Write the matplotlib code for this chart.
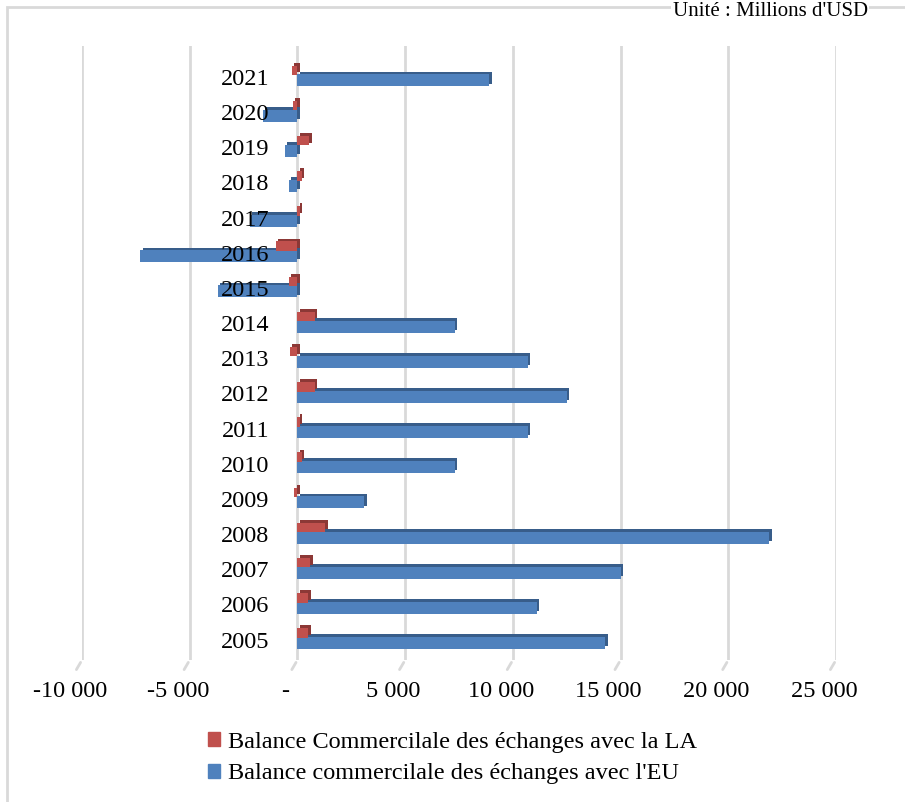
import matplotlib.pyplot as plt
import matplotlib.transforms as mtransforms
from matplotlib.patches import Rectangle

years = [str(y) for y in range(2005, 2022)]

# Millions d'USD
eu_balance = [14300, 11100, 15000, 21900, 3100, 7300, 10700, 12500, 10700,
              7300, -3700, -7300, -2200, -400, -600, -1600, 8900]
la_balance = [500, 500, 600, 1300, -150, 200, 100, 800, -350,
              800, -400, -1000, 100, 200, 550, -200, -250]

xticks = [-10000, -5000, 0, 5000, 10000, 15000, 20000, 25000]
xtick_labels = ['-10 000', '-5 000', '-', '5 000', '10 000', '15 000', '20 000', '25 000']

blue, blue_dark = '#4F81BD', '#385D8A'
red, red_dark = '#C0504D', '#8C3836'

plt.rcParams['font.family'] = ['Liberation Serif', 'DejaVu Serif']
plt.rcParams['font.size'] = 17.5

fig = plt.figure(figsize=(9.05, 8.02), dpi=100)
ax = fig.add_axes([82 / 905, 1 - 660 / 802, (836 - 82) / 905, (660 - 46) / 802])

ypos = list(range(len(years)))


def bars_3d(vals, offset, height, face, dark):
    y = [p + offset for p in ypos]
    # darker block behind gives the top and side faces
    ax.barh([v + 0.08 for v in y], vals, height=height, left=[110] * len(vals),
            color=dark, zorder=2)
    ax.barh(y, vals, height=height, color=face, zorder=3)


bars_3d(eu_balance, -0.03, 0.34, blue, blue_dark)
bars_3d(la_balance, 0.26, 0.27, red, red_dark)

ax.set_xlim(-10000, 25000)
ax.set_ylim(-0.51, 16.95)
ax.set_xticks(xticks)
ax.set_xticklabels(xtick_labels)
ax.tick_params(axis='x', length=0, pad=15)
shift = mtransforms.ScaledTranslation(-12 / 100, 0, fig.dpi_scale_trans)
for lab in ax.get_xticklabels():
    lab.set_transform(lab.get_transform() + shift)
ax.set_yticks([])
ax.grid(axis='x', color='#D9D9D9', linewidth=2, zorder=0)
ax.set_axisbelow(True)
for s in ax.spines.values():
    s.set_visible(False)

# perspective feet of the gridlines
for v in xticks:
    ax.annotate('', xy=(v, -0.51), xytext=(-7, -12), textcoords='offset pixels',
                arrowprops=dict(arrowstyle='-', color='#D9D9D9', lw=2), annotation_clip=False)

# year labels sit to the left of the zero line
for p, yr in zip(ypos, years):
    ax.annotate(yr, xy=(0, p), xytext=(-28, 0), textcoords='offset pixels',
                ha='right', va='center', fontsize=17.5, zorder=5)

handles = [Rectangle((0, 0), 1, 1, color=red), Rectangle((0, 0), 1, 1, color=blue)]
fig.legend(handles, ['Balance Commercilale des échanges avec la LA',
                     "Balance commercilale des échanges avec l'EU"],
           loc='center', bbox_to_anchor=(0.5, 1 - 758 / 802), frameon=False,
           handlelength=0.5, handleheight=0.5, handletextpad=0.3, labelspacing=0.45,
           fontsize=17.5)

fig.add_artist(Rectangle((7 / 905, -0.05), 1.1, 1 - 7 / 802 + 0.05,
                         transform=fig.transFigure, fill=False,
                         edgecolor='#D9D9D9', linewidth=2))
fig.text(868 / 905, 1 - 2 / 802, "Unité : Millions d'USD", ha='right', va='top',
         fontsize=15, bbox=dict(facecolor='white', edgecolor='none', pad=1))

plt.savefig('out.png', dpi=100)
